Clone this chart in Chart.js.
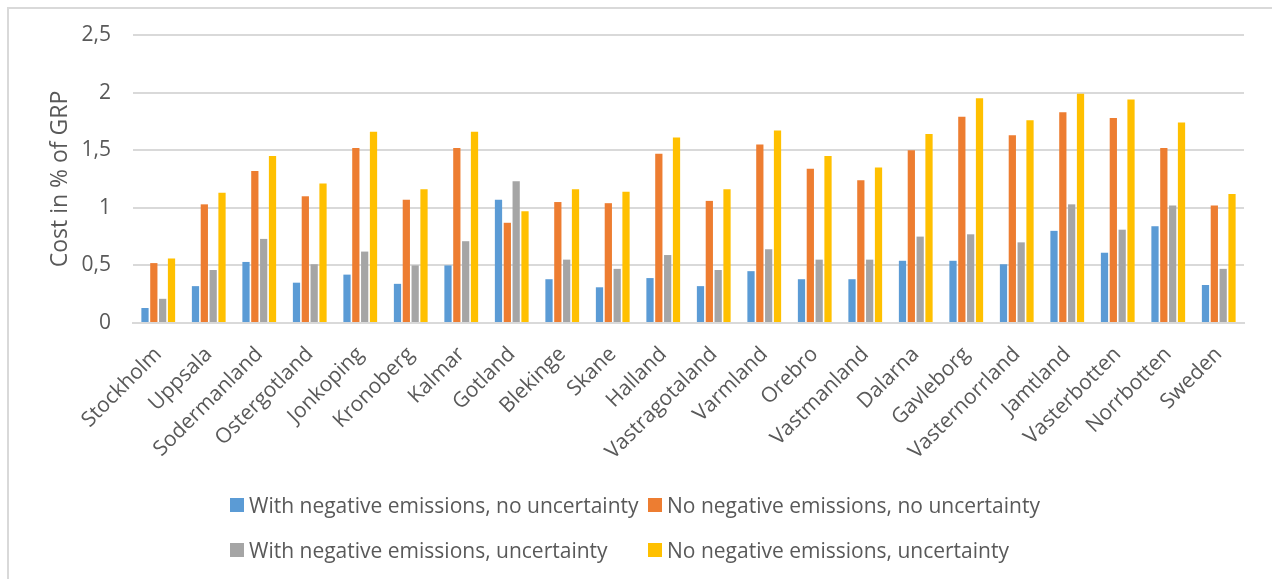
<!DOCTYPE html>
<html>
<head>
<meta charset="utf-8">
<script src="https://cdn.jsdelivr.net/npm/chart.js@4/dist/chart.umd.min.js"></script>
<style>
  html, body { margin: 0; padding: 0; background: #ffffff; }
  body { width: 1272px; height: 579px; position: relative; overflow: hidden; }
  #frame { position: absolute; left: 7px; top: 7px; width: 1300px; height: 600px;
           border-left: 2px solid #d9d9d9; border-top: 2px solid #d9d9d9; box-sizing: border-box; }
  #wrap { position: absolute; left: 0; top: 0; width: 1272px; height: 579px; }
  #legend { position: absolute; left: 230px; top: 490px; display: grid;
            grid-template-columns: 418px 420px; row-gap: 15px;
            font-family: "Open Sans", sans-serif; font-size: 21px; color: #595959; }
  .item { display: flex; align-items: center; white-space: nowrap; height: 30px; }
  .sw { width: 14px; height: 14px; margin-right: 5px; flex: none; }
</style>
</head>
<body>
<div id="frame"></div>
<div id="wrap"><canvas id="c" width="1272" height="579"></canvas></div>
<div id="legend"></div>
<script>
// Regions of Sweden, cost as % of gross regional product
const regions = ["Stockholm", "Uppsala", "Sodermanland", "Ostergotland", "Jonkoping", "Kronoberg",
  "Kalmar", "Gotland", "Blekinge", "Skane", "Halland", "Vastragotaland", "Varmland", "Orebro",
  "Vastmanland", "Dalarna", "Gavleborg", "Vasternorrland", "Jamtland", "Vasterbotten", "Norrbotten", "Sweden"];

const withNegNoUnc = [0.13, 0.32, 0.53, 0.35, 0.42, 0.34, 0.50, 1.07, 0.38, 0.31, 0.39, 0.32,
  0.45, 0.38, 0.38, 0.54, 0.54, 0.51, 0.80, 0.61, 0.84, 0.33];
const noNegNoUnc = [0.52, 1.03, 1.32, 1.10, 1.52, 1.07, 1.52, 0.87, 1.05, 1.04, 1.47, 1.06,
  1.55, 1.34, 1.24, 1.50, 1.79, 1.63, 1.83, 1.78, 1.52, 1.02];
const withNegUnc = [0.21, 0.46, 0.73, 0.51, 0.62, 0.50, 0.71, 1.23, 0.55, 0.47, 0.59, 0.46,
  0.64, 0.55, 0.55, 0.75, 0.77, 0.70, 1.03, 0.81, 1.02, 0.47];
const noNegUnc = [0.56, 1.13, 1.45, 1.21, 1.66, 1.16, 1.66, 0.97, 1.16, 1.14, 1.61, 1.16,
  1.67, 1.45, 1.35, 1.64, 1.95, 1.76, 1.99, 1.94, 1.74, 1.12];

const seriesNames = ["With negative emissions, no uncertainty", "No negative emissions, no uncertainty",
  "With negative emissions, uncertainty", "No negative emissions, uncertainty"];
const seriesColors = ["#5b9bd5", "#ed7d31", "#a5a5a5", "#ffc000"];
const yTicks = [0, 0.5, 1, 1.5, 2, 2.5];

const seriesValues = [withNegNoUnc, noNegNoUnc, withNegUnc, noNegUnc];
const datasets = seriesValues.map((vals, i) => ({
  label: seriesNames[i],
  data: vals,
  backgroundColor: seriesColors[i],
  borderWidth: 0,
  barPercentage: 0.82,
  categoryPercentage: 0.7
}));

const textColor = "#595959";
const gridColor = "#d9d9d9";

const chart = new Chart(document.getElementById("c"), {
  type: "bar",
  data: { labels: regions, datasets },
  options: {
    responsive: false,
    animation: false,
    layout: { padding: { top: 35, left: 0, right: 28, bottom: 116 } },
    plugins: { legend: { display: false }, tooltip: { enabled: false } },
    scales: {
      x: {
        clip: false,
        grid: { display: false },
        border: { display: true, color: gridColor, width: 2 },
        ticks: {
          autoSkip: false, minRotation: 45, maxRotation: 45,
          color: textColor, font: { family: "Open Sans", size: 21 }, padding: 11
        },
        afterFit(scale) { scale.height = 140; }
      },
      y: {
        min: 0, max: 2.5,
        afterBuildTicks(scale) { scale.ticks = yTicks.map(v => ({ value: v })); },
        grid: { color: gridColor, lineWidth: 2, drawTicks: false },
        border: { display: false },
        ticks: {
          color: textColor, font: { family: "Open Sans", size: 21 }, padding: 22,
          callback: v => String(v).replace(".", ",")
        },
        title: {
          display: true, text: "Cost in % of GRP", color: textColor,
          font: { family: "Open Sans", size: 23 }, padding: { top: 47, bottom: 0 }
        },
        afterFit(scale) { scale.width = 133; }
      }
    }
  }
});

// Legend laid out as a two-column grid
const legend = document.getElementById("legend");
[0, 1, 2, 3].forEach(i => {
  const ds = chart.data.datasets[i];
  const item = document.createElement("div");
  item.className = "item";
  const sw = document.createElement("span");
  sw.className = "sw";
  sw.style.background = ds.backgroundColor;
  const tx = document.createElement("span");
  tx.textContent = ds.label;
  item.appendChild(sw);
  item.appendChild(tx);
  legend.appendChild(item);
});
</script>
</body>
</html>
